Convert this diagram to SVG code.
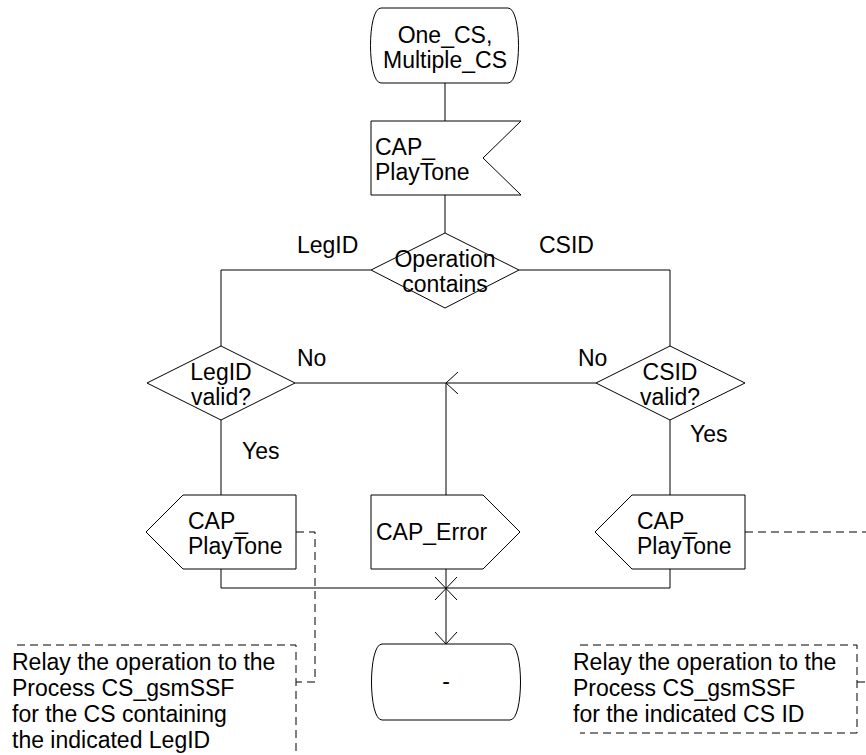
<svg xmlns="http://www.w3.org/2000/svg" width="866" height="755" viewBox="0 0 866 755">
<style>
.s{fill:#fff;stroke:#000;stroke-width:1}
.l{fill:none;stroke:#000;stroke-width:1}
.d{fill:none;stroke:#000;stroke-width:1;stroke-dasharray:8,5}
text{font-family:"Liberation Sans",Arial,sans-serif;font-size:23px;fill:#000}
.c{text-anchor:middle}
</style>
<rect width="866" height="755" fill="#fff"/>
<g id="connectors">
<path class="l" d="M445,83V121"/>
<path class="l" d="M445,195V233"/>
<path class="l" d="M371,270H221V346"/>
<path class="l" d="M519,270H670V346"/>
<path class="l" d="M295,383H596"/>
<path class="l" d="M446,383V495"/>
<path class="l" d="M458,372L446,383L458,394"/>
<path class="l" d="M221,420V495"/>
<path class="l" d="M670,420V495"/>
<path class="l" d="M221,569V588H670V569"/>
<path class="l" d="M446,569V644"/>
<path class="l" d="M435,577L457,600M457,577L435,600"/>
<path class="l" d="M435,632L446,644L457,632"/>
<path class="d" d="M296,532H315V682H296"/>
<path class="d" d="M745,532H866"/>
<path class="d" d="M857,682H866"/>
</g>
<g id="start">
<path class="s" d="M381,8H508C522,8 522,83 508,83H381C367,83 367,8 381,8Z"/>
<text class="c" x="445" y="43">One_CS,</text>
<text class="c" x="445" y="68">Multiple_CS</text>
</g>
<g id="input">
<path class="s" d="M371,121H521L483,158L521,195H371Z"/>
<text x="375" y="155">CAP_</text>
<text x="375" y="180">PlayTone</text>
</g>
<g id="decision_op">
<path class="s" d="M445,233L519,270L445,308L371,270Z"/>
<text class="c" x="445" y="267">Operation</text>
<text class="c" x="445" y="292">contains</text>
</g>
<text x="297" y="253">LegID</text>
<text x="539" y="253">CSID</text>
<g id="decision_legid">
<path class="s" d="M221,346L295,383L221,420L147,383Z"/>
<text class="c" x="221" y="380">LegID</text>
<text class="c" x="221" y="405">valid?</text>
</g>
<g id="decision_csid">
<path class="s" d="M670,346L745,383L670,420L596,383Z"/>
<text class="c" x="670" y="380">CSID</text>
<text class="c" x="670" y="405">valid?</text>
</g>
<text x="297" y="366">No</text>
<text x="578" y="366">No</text>
<text x="242" y="459">Yes</text>
<text x="690" y="442">Yes</text>
<g id="output_left">
<path class="s" d="M183,495H296V569H183L146,532Z"/>
<text x="188" y="529">CAP_</text>
<text x="188" y="554">PlayTone</text>
</g>
<g id="output_error">
<path class="s" d="M371,495H483L520,532L483,569H371Z"/>
<text x="376" y="540">CAP_Error</text>
</g>
<g id="output_right">
<path class="s" d="M632,495H745V569H632L595,532Z"/>
<text x="637" y="529">CAP_</text>
<text x="637" y="554">PlayTone</text>
</g>
<g id="end">
<path class="s" d="M382,644H510C524,644 524,720 510,720H382C368,720 368,644 382,644Z"/>
<text class="c" x="446" y="689">-</text>
</g>
<g id="comment_left">
<path class="d" d="M17,645H296V755"/>
<text x="12" y="670">Relay the operation to the</text>
<text x="12" y="696">Process CS_gsmSSF</text>
<text x="12" y="722">for the CS containing</text>
<text x="12" y="748">the indicated LegID</text>
</g>
<g id="comment_right">
<path class="d" d="M580,645H857V733H580"/>
<text x="573" y="670">Relay the operation to the</text>
<text x="573" y="696">Process CS_gsmSSF</text>
<text x="573" y="722">for the indicated CS ID</text>
</g>
</svg>
